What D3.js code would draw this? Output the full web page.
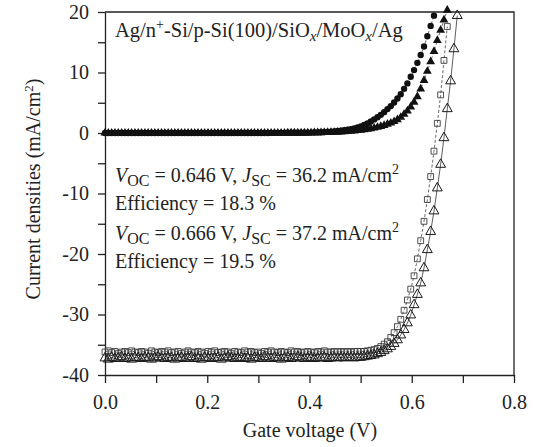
<!DOCTYPE html>
<html>
<head>
<meta charset="utf-8">
<script src="https://cdn.jsdelivr.net/npm/d3@7"></script>
<style>
  body { margin: 0; background: #fff; }
  svg text { font-family: "Liberation Serif", "Times New Roman", serif; fill: #222; }
</style>
</head>
<body>
<div id="chart"></div>
<script>
// Gate voltage (V), shared by all four sweeps
const voltage = [
  0, 0.0065, 0.013, 0.0195, 0.026, 0.0325, 0.039, 0.0455, 0.052, 0.0585,
  0.065, 0.0715, 0.078, 0.0845, 0.091, 0.0975, 0.104, 0.1105, 0.117, 0.1235,
  0.13, 0.1365, 0.143, 0.1495, 0.156, 0.1625, 0.169, 0.1755, 0.182, 0.1885,
  0.195, 0.2015, 0.208, 0.2145, 0.221, 0.2275, 0.234, 0.2405, 0.247, 0.2535,
  0.26, 0.2665, 0.273, 0.2795, 0.286, 0.2925, 0.299, 0.3055, 0.312, 0.3185,
  0.325, 0.3315, 0.338, 0.3445, 0.351, 0.3575, 0.364, 0.3705, 0.377, 0.3835,
  0.39, 0.3965, 0.403, 0.4095, 0.416, 0.4225, 0.429, 0.4355, 0.442, 0.4485,
  0.455, 0.4615, 0.468, 0.4745, 0.481, 0.4875, 0.494, 0.5005, 0.507, 0.5135,
  0.52, 0.5265, 0.533, 0.5395, 0.546, 0.5525, 0.559, 0.5655, 0.572, 0.5785,
  0.585, 0.5915, 0.598, 0.6045, 0.611, 0.6175, 0.624, 0.6305, 0.637, 0.6435,
  0.65, 0.6565, 0.663, 0.6695, 0.676, 0.6825, 0.689
];

// dark J-V, filled circles (mA/cm2)
const darkCircle = [
  0, 0, 0, 0, 0, 0, 0, 0, 0, 0,
  0, 0, 0, 0, 0, 0, 0, 0, 0, 0,
  0, 0, 0, 0, 0, 0, 0, 0, 0, 0,
  0, 0, 0, 0, 0, 0, 0, 0, 0, 0,
  0, 0, 0, 0, 0, 0, 0, 0, 0, 0,
  0.02, 0.02, 0.03, 0.03, 0.03, 0.04, 0.04, 0.04, 0.05, 0.05,
  0.05, 0.06, 0.07, 0.09, 0.11, 0.13, 0.16, 0.19, 0.23, 0.27,
  0.32, 0.38, 0.45, 0.53, 0.63, 0.76, 0.92, 1.1, 1.35, 1.6,
  1.9, 2.25, 2.6, 3.0, 3.45, 3.95, 4.45, 5.05, 5.7, 6.4,
  7.3, 8.2, 9.3, 10.4, 11.6, 12.9, 14.3, 16.0, 17.7, 19.4
];

// dark J-V, filled triangles
const darkTriangle = [
  0, 0, 0, 0, 0, 0, 0, 0, 0, 0,
  0, 0, 0, 0, 0, 0, 0, 0, 0, 0,
  0, 0, 0, 0, 0, 0, 0, 0, 0, 0,
  0, 0, 0, 0, 0, 0, 0, 0, 0, 0,
  0, 0, 0, 0, 0, 0, 0, 0, 0, 0,
  0, 0, 0, 0, 0, 0.01, 0.01, 0.01, 0.02, 0.02,
  0.02, 0.03, 0.04, 0.05, 0.06, 0.07, 0.08, 0.09, 0.1, 0.12,
  0.15, 0.18, 0.21, 0.25, 0.3, 0.35, 0.41, 0.48, 0.55, 0.63,
  0.72, 0.82, 0.95, 1.1, 1.25, 1.45, 1.65, 1.9, 2.2, 2.6,
  3.1, 3.65, 4.3, 5.1, 6.0, 7.3, 8.7, 10.2, 11.8, 13.5,
  15.3, 17.0, 18.7, 20.3
];

// illuminated J-V, open squares (Voc 0.646 V)
const lightSquare = [
  -36.2, -36.0, -36.3, -36.1, -36.4, -36.2, -36.1, -36.3, -36.0, -36.2,
  -36.3, -36.1, -36.2, -36.4, -36.0, -36.2, -36.3, -36.1, -36.2, -36.0,
  -36.3, -36.2, -36.1, -36.4, -36.2, -36.0, -36.2, -36.3, -36.1, -36.2,
  -36.4, -36.1, -36.2, -36.0, -36.3, -36.2, -36.1, -36.2, -36.4, -36.1,
  -36.2, -36.3, -36.0, -36.2, -36.1, -36.3, -36.2, -36.4, -36.1, -36.2,
  -36.0, -36.2, -36.3, -36.1, -36.2, -36.3, -36.0, -36.2, -36.1, -36.3,
  -36.2, -36.1, -36.2, -36.3, -36.1, -36.2, -36.0, -36.2, -36.2, -36.1,
  -36.2, -36.1, -36.2, -36.1, -36.2, -36.1, -36.1, -36.1,
  -36.1, -36.0, -35.9, -35.8, -35.6, -35.3, -34.9, -34.5, -33.8, -33.0,
  -32.0, -30.8, -29.3, -27.6, -25.8, -23.6, -20.8, -17.8, -14.6, -11.0,
  -7.2, -3.0, 1.6, 6.3, 12.0, 17.6
];

// illuminated J-V, open triangles (Voc 0.666 V)
const lightTriangle = [
  -37.2, -37.4, -37.1, -37.3, -37.2, -37.0, -37.3, -37.2, -37.4, -37.1,
  -37.2, -37.3, -37.1, -37.2, -37.4, -37.2, -37.0, -37.2, -37.3, -37.1,
  -37.2, -37.4, -37.2, -37.1, -37.3, -37.2, -37.0, -37.3, -37.2, -37.4,
  -37.1, -37.2, -37.3, -37.2, -37.1, -37.4, -37.2, -37.0, -37.2, -37.3,
  -37.2, -37.1, -37.3, -37.2, -37.4, -37.1, -37.2, -37.3, -37.0, -37.2,
  -37.3, -37.1, -37.2, -37.4, -37.2, -37.1, -37.3, -37.2, -37.0, -37.2,
  -37.3, -37.2, -37.1, -37.3, -37.2, -37.2, -37.1, -37.3, -37.2, -37.1,
  -37.2, -37.1, -37.2, -37.1, -37.1, -37.2, -37.1,
  -37.1, -37.0, -36.9, -36.8, -36.7, -36.5, -36.3, -36.0, -35.7, -35.3,
  -34.8, -34.2, -33.4, -32.5, -31.4, -30.1, -28.4, -26.7, -24.8, -22.3,
  -19.3, -16.3, -12.9, -9.1, -5.2, -0.8, 4.0, 8.6, 13.9, 19.4
];

const xTicks = [0, 0.1, 0.2, 0.3, 0.4, 0.5, 0.6, 0.7, 0.8];
const yTicks = [-40, -35, -30, -25, -20, -15, -10, -5, 0, 5, 10, 15, 20];

const width = 534, height = 447;
const plot = { left: 105, right: 514, top: 12, bottom: 375 };

const svg = d3.select("#chart")
  .append("svg")
  .attr("width", width)
  .attr("height", height);

const x = d3.scaleLinear().domain([0, 0.8]).range([plot.left, plot.right]);
const y = d3.scaleLinear().domain([-40, 20]).range([plot.bottom, plot.top]);

const pairs = arr => arr.map((j, i) => [voltage[i], j]);

// frame (top and right)
svg.append("path")
  .attr("d", `M${plot.left},${plot.top}H${plot.right}V${plot.bottom}`)
  .attr("fill", "none")
  .attr("stroke", "#222")
  .attr("stroke-width", 1.3);

// X axis
const xAxis = svg.append("g")
  .attr("transform", `translate(0,${plot.bottom})`)
  .call(
    d3.axisBottom(x)
      .tickValues(xTicks)
      .tickSize(8)
      .tickSizeOuter(0)
      .tickPadding(12)
      .tickFormat(d => (Math.round(d * 10) % 2 === 0 ? d3.format(".1f")(d) : ""))
  );
xAxis.selectAll("text").style("font-size", "20px").attr("fill", "#222");

// Y axis
const yAxis = svg.append("g")
  .attr("transform", `translate(${plot.left},0)`)
  .call(
    d3.axisLeft(y)
      .tickValues(yTicks)
      .tickSize(7)
      .tickSizeOuter(0)
      .tickPadding(9)
      .tickFormat(d => (d % 10 === 0 ? String(d) : ""))
  );
yAxis.selectAll("text").style("font-size", "20px").attr("fill", "#222");

svg.selectAll(".domain, .tick line")
  .attr("stroke", "#222")
  .attr("stroke-width", 1.3);

// Axis titles
svg.append("text")
  .attr("x", 310)
  .attr("y", 437)
  .attr("text-anchor", "middle")
  .style("font-size", "20px")
  .text("Gate voltage (V)");

const yTitle = svg.append("text")
  .attr("transform", "translate(40,189) rotate(-90)")
  .attr("text-anchor", "middle")
  .style("font-size", "20px");
yTitle.append("tspan").text("Current densities (mA/cm");
yTitle.append("tspan").attr("dy", -7).style("font-size", "13px").text("2");
yTitle.append("tspan").attr("dy", 7).text(")");

// guide lines through the points
const line = d3.line().x(d => x(d[0])).y(d => y(d[1]));

svg.append("path")
  .datum(pairs(lightSquare))
  .attr("fill", "none")
  .attr("stroke", "#444")
  .attr("stroke-width", 0.8)
  .attr("stroke-dasharray", "3,2")
  .attr("d", line);

svg.append("path")
  .datum(pairs(lightTriangle))
  .attr("fill", "none")
  .attr("stroke", "#333")
  .attr("stroke-width", 0.8)
  .attr("d", line);

svg.append("path")
  .datum(pairs(darkCircle))
  .attr("fill", "none")
  .attr("stroke", "#333")
  .attr("stroke-width", 0.7)
  .attr("stroke-dasharray", "3,2")
  .attr("d", line);

svg.append("path")
  .datum(pairs(darkTriangle))
  .attr("fill", "none")
  .attr("stroke", "#333")
  .attr("stroke-width", 0.7)
  .attr("stroke-dasharray", "3,2")
  .attr("d", line);

// markers
function drawMarkers(data, type, size, fill, stroke, sw) {
  svg.append("g")
    .selectAll("path")
    .data(pairs(data))
    .join("path")
    .attr("transform", d => `translate(${x(d[0])},${y(d[1])})`)
    .attr("d", d3.symbol().type(type).size(size))
    .attr("fill", fill)
    .attr("stroke", stroke)
    .attr("stroke-width", sw);
}

drawMarkers(lightSquare, d3.symbolSquare, 34, "none", "#3a3a3a", 0.9);
drawMarkers(lightTriangle, d3.symbolTriangle, 42, "none", "#1a1a1a", 1);
drawMarkers(darkCircle, d3.symbolCircle, 32, "#111", "none", 0);
drawMarkers(darkTriangle, d3.symbolTriangle, 34, "#111", "none", 0);

// annotations
const ann = svg.append("g").style("font-size", "20px");

const t1 = ann.append("text").attr("x", 115).attr("y", 37).style("font-size", "20.5px");
t1.append("tspan").text("Ag/n");
t1.append("tspan").attr("dy", -8).style("font-size", "14px").text("+");
t1.append("tspan").attr("dy", 8).text("-Si/p-Si(100)/SiO");
t1.append("tspan").attr("dy", 4).style("font-size", "15px").style("font-style", "italic").text("x");
t1.append("tspan").attr("dy", -4).text("/MoO");
t1.append("tspan").attr("dy", 4).style("font-size", "15px").style("font-style", "italic").text("x");
t1.append("tspan").attr("dy", -4).text("/Ag");

function vocLine(yPos, voc, jsc) {
  const t = ann.append("text").attr("x", 115).attr("y", yPos);
  t.append("tspan").style("font-style", "italic").text("V");
  t.append("tspan").attr("dy", 4).style("font-size", "16px").text("OC");
  t.append("tspan").attr("dy", -4).text(` = ${voc} V, `);
  t.append("tspan").style("font-style", "italic").text("J");
  t.append("tspan").attr("dy", 4).style("font-size", "16px").text("SC");
  t.append("tspan").attr("dy", -4).text(` = ${jsc} mA/cm`);
  t.append("tspan").attr("dy", -8).style("font-size", "14px").text("2");
}

vocLine(182, "0.646", "36.2");
ann.append("text").attr("x", 115).attr("y", 210).text("Efficiency = 18.3 %");
vocLine(240, "0.666", "37.2");
ann.append("text").attr("x", 115).attr("y", 268).text("Efficiency = 19.5 %");
</script>
</body>
</html>
